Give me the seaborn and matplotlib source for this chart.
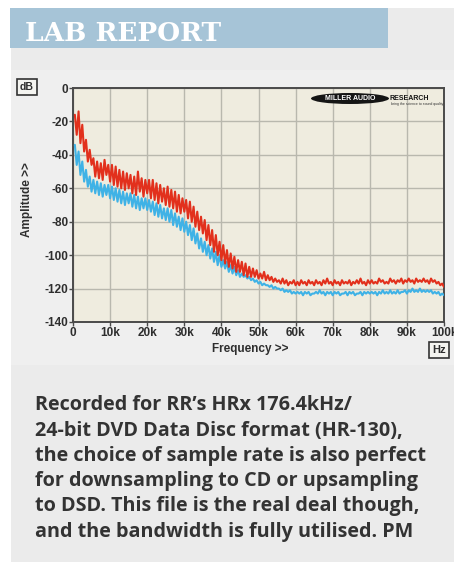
import numpy as np
import pandas as pd
import matplotlib.pyplot as plt
import seaborn as sns
from matplotlib.patches import Rectangle, Ellipse

# frequency grid in kHz, one reading every 0.5 kHz
freq_khz = np.arange(0.5, 100.01, 0.5)

# red trace (left channel), dB
red_db = [
    -16, -28, -14, -33, -22, -38, -31, -44, -37, -46,
    -42, -53, -44, -54, -45, -55, -43, -52, -46, -56,
    -46, -58, -47, -59, -49, -60, -50, -61, -51, -60,
    -52, -63, -53, -64, -50, -62, -54, -65, -55, -63,
    -55, -66, -55, -67, -57, -69, -58, -68, -60, -70,
    -59, -71, -61, -72, -62, -74, -64, -75, -66, -74,
    -67, -78, -68, -80, -71, -83, -74, -85, -77, -87,
    -79, -91, -82, -94, -85, -98, -88, -100, -92, -103,
    -94, -105, -97, -107, -99, -108, -101, -110, -103, -110,
    -104, -112, -105, -113, -107, -113, -108, -113, -109, -114,
    -111, -114, -110, -115, -112, -115, -113, -116, -114, -116,
    -115, -117, -114, -117, -115, -118, -116, -117, -115, -118,
    -116, -118, -115, -117, -116, -118, -115, -117, -116, -118,
    -115, -117, -116, -118, -115, -117, -114, -117, -116, -118,
    -115, -117, -116, -118, -115, -117, -116, -117, -115, -118,
    -116, -117, -115, -117, -114, -117, -116, -118, -115, -117,
    -115, -117, -116, -117, -114, -116, -115, -117, -116, -117,
    -114, -116, -115, -117, -115, -116, -114, -117, -115, -116,
    -114, -116, -115, -117, -114, -116, -115, -116, -114, -116,
    -115, -117, -114, -116, -115, -117, -116, -118, -117, -119,
]

# blue trace (right channel), dB
blue_db = [
    -34, -46, -38, -52, -44, -56, -49, -59, -53, -62,
    -55, -63, -56, -64, -57, -65, -58, -64, -58, -66,
    -59, -67, -60, -68, -61, -69, -62, -70, -63, -69,
    -63, -71, -64, -72, -65, -73, -66, -72, -66, -73,
    -67, -74, -68, -76, -69, -77, -70, -78, -72, -79,
    -72, -80, -73, -82, -75, -83, -77, -85, -78, -86,
    -80, -88, -82, -91, -84, -93, -87, -96, -90, -98,
    -92, -100, -94, -102, -96, -104, -98, -106, -100, -107,
    -103, -108, -104, -110, -106, -111, -107, -112, -109, -113,
    -111, -113, -112, -114, -113, -115, -114, -116, -115, -117,
    -116, -118, -117, -118, -118, -119, -118, -120, -119, -120,
    -120, -121, -120, -122, -121, -122, -121, -123, -122, -123,
    -122, -123, -122, -124, -122, -123, -122, -124, -123, -123,
    -122, -123, -121, -123, -122, -124, -122, -123, -122, -124,
    -122, -123, -122, -124, -123, -123, -122, -124, -122, -123,
    -122, -124, -123, -123, -122, -124, -122, -123, -122, -123,
    -122, -123, -122, -124, -122, -123, -121, -123, -122, -123,
    -121, -123, -122, -123, -121, -123, -122, -122, -121, -123,
    -121, -122, -120, -122, -121, -122, -120, -122, -121, -122,
    -121, -122, -121, -123, -122, -123, -122, -124, -123, -124,
]

x_ticks = [0, 10, 20, 30, 40, 50, 60, 70, 80, 90, 100]
x_labels = ["0", "10k", "20k", "30k", "40k", "50k", "60k", "70k", "80k", "90k", "100k"]
y_ticks = [0, -20, -40, -60, -80, -100, -120, -140]

body_lines = [
    "Recorded for RR\u2019s HRx 176.4kHz/",
    "24-bit DVD Data Disc format (HR-130),",
    "the choice of sample rate is also perfect",
    "for downsampling to CD or upsampling",
    "to DSD. This file is the real deal though,",
    "and the bandwidth is fully utilised. PM",
]

sns.set_theme(style="white")
plt.rcParams["font.family"] = ["Liberation Sans", "DejaVu Sans"]

W, H = 454, 562
fig = plt.figure(figsize=(W / 100, H / 100), dpi=100)
fig.patch.set_facecolor("white")


def fx(px):
    return px / W


def fy(py):
    return 1 - py / H


# page background and header band
fig.patches.append(Rectangle((fx(11), 0), fx(W - 11), fy(8), transform=fig.transFigure,
                             facecolor="#ebebeb", edgecolor="none", zorder=0))
fig.patches.append(Rectangle((fx(11), fy(365)), fx(W - 11), fy(70) - fy(365), transform=fig.transFigure,
                             facecolor="#efefef", edgecolor="none", zorder=0))
fig.patches.append(Rectangle((fx(10), fy(48)), fx(378), 40 / H, transform=fig.transFigure,
                             facecolor="#a6c4d7", edgecolor="none", zorder=1))
fig.text(fx(25), fy(41), "LAB REPORT", family="DejaVu Serif", weight="bold",
         fontsize=19, color="white", va="baseline", ha="left")

# the chart
ax = fig.add_axes([fx(73), fy(322), fx(444 - 73), (322 - 88) / H])
ax.set_zorder(3)
ax.set_facecolor("#efecdf")

sns.lineplot(x=freq_khz, y=blue_db, ax=ax, color="#3fb2e6", lw=1.5,
             estimator=None, sort=False, zorder=3)
sns.lineplot(x=freq_khz, y=red_db, ax=ax, color="#e2301c", lw=1.5,
             estimator=None, sort=False, zorder=4)

ax.set_xlim(0, 100)
ax.set_ylim(-140, 0)
ax.set_xticks(x_ticks)
ax.set_xticklabels(x_labels)
ax.set_yticks(y_ticks)
ax.set_yticklabels([str(v) for v in y_ticks])
ax.grid(True, color="#b9b8ae", lw=1.0)
ax.set_axisbelow(True)
for side in ["left", "bottom", "top", "right"]:
    ax.spines[side].set_color("#4a4a4a")
    ax.spines[side].set_linewidth(1.4)
ax.tick_params(axis="both", which="both", direction="out", length=3, width=1,
               color="#4a4a4a", labelsize=8.5, labelcolor="#2e2e2e", pad=0.5,
               left=True, bottom=True)
for lab in ax.get_xticklabels() + ax.get_yticklabels():
    lab.set_fontweight("bold")
ax.set_xlabel("")
ax.set_ylabel("")

fig.text(fx(250), fy(349), "Frequency >>", ha="center", va="center",
         fontsize=8.5, weight="bold", color="#2e2e2e")
fig.text(fx(27), fy(200), "Amplitude >>", ha="center", va="center", rotation=90,
         fontsize=8.5, weight="bold", color="#2e2e2e")
box = dict(boxstyle="square,pad=0.25", facecolor="#f4f4f0", edgecolor="#333333", lw=1.2)
fig.text(fx(27), fy(87), "dB", ha="center", va="center", fontsize=7.5,
         weight="bold", color="#2e2e2e", bbox=box)
fig.text(fx(439), fy(350), "Hz", ha="center", va="center", fontsize=8,
         weight="bold", color="#2e2e2e", bbox=box)

# Miller Audio Research badge
fig.patches.append(Ellipse((fx(350), fy(98.5)), fx(78), 11 / H, transform=fig.transFigure,
                           facecolor="#151515", edgecolor="none", zorder=5))
fig.text(fx(350), fy(98.5), "MILLER AUDIO", ha="center", va="center", fontsize=5,
         weight="bold", color="white", zorder=6)
fig.text(fx(389), fy(98.5), "RESEARCH", ha="left", va="center", fontsize=5,
         weight="bold", color="#151515", zorder=6)
fig.text(fx(443), fy(104.5), "bring the science to sound quality", ha="right", va="center",
         fontsize=2.5, color="#333333", zorder=6)

# caption
baselines = [410.5, 435.7, 460.9, 486.1, 511.3, 536.5]
for line, by in zip(body_lines, baselines):
    fig.text(fx(35), fy(by), line, ha="left", va="baseline", family=["Open Sans", "DejaVu Sans"],
             weight="bold", fontsize=14.2, color="#333333")

fig.savefig("out.png", dpi=100)
